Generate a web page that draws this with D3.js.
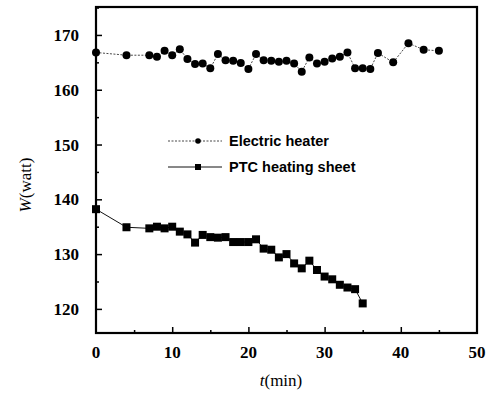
<!DOCTYPE html>
<html><head><meta charset="utf-8">
<script src="https://cdn.jsdelivr.net/npm/d3@7"></script>
<style>
body{margin:0;background:#fff}
svg text.sf{font-family:"Times New Roman","Liberation Serif",serif !important}
svg text.ss{font-family:Arial,"Liberation Sans",sans-serif !important}
</style>
</head><body>
<svg id="c" width="487" height="394"></svg>
<script>
const heaterT = [0,4,7,8,9,10,11,12,13,14,15,16,17,18,19,20,21,22,23,24,25,26,27,28,29,30,31,32,33,34,35,36,37,39,41,43,45];
const heaterW = [166.8,166.3,166.3,166.0,167.1,166.3,167.4,165.6,164.7,164.8,163.9,166.5,165.4,165.3,164.9,163.8,166.5,165.4,165.3,165.1,165.3,164.8,163.3,165.9,164.8,165.1,165.7,166.0,166.8,163.9,163.9,163.8,166.7,165.0,168.5,167.3,167.1];
const ptcT = [0,4,7,8,9,10,11,12,13,14,15,16,17,18,19,20,21,22,23,24,25,26,27,28,29,30,31,32,33,34,35];
const ptcW = [138.2,134.9,134.7,135.0,134.7,135.0,134.1,133.6,132.1,133.5,133.1,133.0,133.1,132.2,132.2,132.2,132.7,131.0,130.8,129.4,130.0,128.3,127.4,128.8,127.1,125.9,125.4,124.4,123.9,123.6,121.0];
const xTicks = [0,10,20,30,40,50];
const yTicks = [120,130,140,150,160,170];
const seriesNames = ["Electric heater","PTC heating sheet"];

const svg = d3.select("#c");
const L=96,R=477,T=7,B=333;
const x = d3.scaleLinear().domain([0,50]).range([L,R]);
const y = d3.scaleLinear().domain([115.6,175.1]).range([B,T]);

svg.append("g").attr("transform",`translate(0,${B})`)
  .call(d3.axisTop(x).tickValues(d3.range(5,50,10)).tickSize(3).tickFormat(""));
svg.append("g").attr("transform",`translate(0,${B})`)
  .call(d3.axisTop(x).tickValues([10,20,30,40]).tickSize(6).tickFormat(""));
svg.append("g").attr("transform",`translate(${L},0)`)
  .call(d3.axisRight(y).tickValues([125,135,145,155,165,175]).tickSize(3).tickFormat(""));
svg.append("g").attr("transform",`translate(${L},0)`)
  .call(d3.axisRight(y).tickValues(yTicks).tickSize(6).tickFormat(""));
svg.selectAll(".domain").remove();
svg.selectAll(".tick line").attr("stroke","#000").attr("stroke-width",1.5);

svg.append("g").selectAll("text").data(xTicks).enter().append("text").attr("class","sf")
  .attr("x",d=>x(d)).attr("y",B+25).attr("text-anchor","middle")
  .attr("font-weight","bold").attr("font-size",17).attr("fill","#000").text(d=>d);
svg.append("g").selectAll("text").data(yTicks).enter().append("text").attr("class","sf")
  .attr("x",L-17).attr("y",d=>y(d)+6).attr("text-anchor","end")
  .attr("font-weight","bold").attr("font-size",17).attr("fill","#000").text(d=>d);

svg.append("rect").attr("x",L).attr("y",T).attr("width",R-L).attr("height",B-T)
  .attr("fill","none").attr("stroke","#000").attr("stroke-width",2.2);

const hData = heaterT.map((t,i)=>[t,heaterW[i]]);
const pData = ptcT.map((t,i)=>[t,ptcW[i]]);
const line = d3.line().x(d=>x(d[0])).y(d=>y(d[1]));
svg.append("path").attr("d",line(hData)).attr("fill","none").attr("stroke","#333").attr("stroke-width",0.9).attr("stroke-dasharray","2,1.5");
svg.append("path").attr("d",line(pData)).attr("fill","none").attr("stroke","#111").attr("stroke-width",1);
svg.selectAll(".hc").data(hData).enter().append("circle")
  .attr("cx",d=>x(d[0])).attr("cy",d=>y(d[1])).attr("r",4).attr("fill","#000");
svg.selectAll(".ps").data(pData).enter().append("rect")
  .attr("x",d=>x(d[0])-4).attr("y",d=>y(d[1])-4).attr("width",8).attr("height",8).attr("fill","#000");

const lg = svg.append("g");
lg.append("line").attr("x1",168).attr("x2",222).attr("y1",141).attr("y2",141).attr("stroke","#333").attr("stroke-width",0.9).attr("stroke-dasharray","2,1.5");
lg.append("circle").attr("cx",198).attr("cy",141).attr("r",2.8).attr("fill","#000");
lg.append("text").attr("x",229).attr("y",146).text(seriesNames[0]);
lg.append("line").attr("x1",168).attr("x2",222).attr("y1",167).attr("y2",167).attr("stroke","#111").attr("stroke-width",1);
lg.append("rect").attr("x",195).attr("y",164).attr("width",6).attr("height",6).attr("fill","#000");
lg.append("text").attr("x",229).attr("y",172).text(seriesNames[1]);
lg.selectAll("text").attr("class","ss").attr("font-weight","bold").attr("font-size",14.5).attr("fill","#000");

const yt = svg.append("text").attr("class","sf").attr("transform","translate(31,185) rotate(-90)").attr("text-anchor","middle")
  .attr("font-size",17);
yt.append("tspan").attr("font-style","italic").text("W");
yt.append("tspan").text("(watt)");
const xt = svg.append("text").attr("class","sf").attr("x",281).attr("y",386).attr("text-anchor","middle")
  .attr("font-size",17);
xt.append("tspan").attr("font-style","italic").text("t");
xt.append("tspan").text("(min)");
</script>
</body></html>
